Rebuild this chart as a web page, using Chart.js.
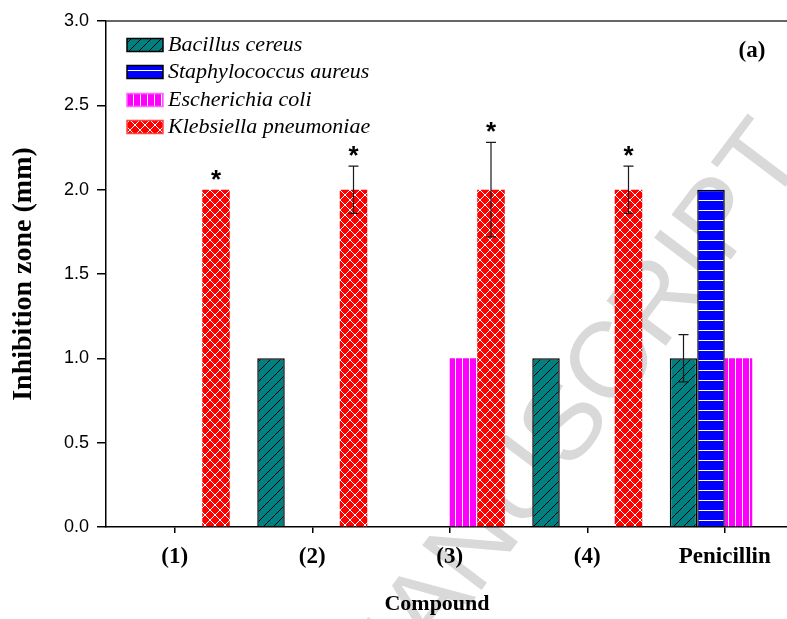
<!DOCTYPE html>
<html>
<head>
<meta charset="utf-8">
<script src="https://cdn.jsdelivr.net/npm/chart.js@4.4.1/dist/chart.umd.min.js"></script>
<style>
  html, body { margin: 0; padding: 0; background: #fff; overflow: hidden; }
</style>
</head>
<body>
<canvas id="chart" width="800" height="619"></canvas>
<script>
// categories and values
const compounds = ['(1)', '(2)', '(3)', '(4)', 'Penicillin'];
const bacillusCereus = [0, 1, 0, 1, 1];
const staphAureus = [0, 0, 0, 0, 2];
const escherichiaColi = [0, 0, 1, 0, 1];
const klebsiella = [2, 2, 2, 2, 0];

// error bars (+/-) and significance marks
const bacillusErr = [0, 0, 0, 0, 0.14];
const klebsiellaErr = [0, 0.14, 0.28, 0.14, 0];
const klebsiellaStar = [true, true, true, true, false];

const seriesNames = ['Bacillus cereus', 'Staphylococcus aureus', 'Escherichia coli', 'Klebsiella pneumoniae'];

const canvas = document.getElementById('chart');
const ctx = canvas.getContext('2d');

// hatch patterns like the original figure
function makePattern(w, h, bg, draw) {
    const c = document.createElement('canvas');
    c.width = w;
    c.height = h;
    const g = c.getContext('2d');
    g.fillStyle = bg;
    g.fillRect(0, 0, w, h);
    draw(g, w, h);
    return ctx.createPattern(c, 'repeat');
}

const diagPattern = makePattern(10, 10, '#008080', (g, w, h) => {
    g.strokeStyle = '#000';
    g.lineWidth = 1;
    g.beginPath();
    g.moveTo(0, h); g.lineTo(w, 0);
    g.moveTo(-2, 2); g.lineTo(2, -2);
    g.moveTo(w - 2, h + 2); g.lineTo(w + 2, h - 2);
    g.stroke();
});
const horizPattern = makePattern(4, 10, '#0000ff', (g, w) => {
    g.fillStyle = '#ffffff';
    g.fillRect(0, 0, w, 1);
});
const vertPattern = makePattern(7, 4, '#ff00ff', (g, w, h) => {
    g.fillStyle = '#ffffff';
    g.fillRect(0, 0, 1, h);
});
const crossPattern = makePattern(10, 10, '#ff0000', (g, w, h) => {
    g.strokeStyle = '#ffffff';
    g.lineWidth = 1;
    g.beginPath();
    g.moveTo(0, 0); g.lineTo(w, h);
    g.moveTo(0, h); g.lineTo(w, 0);
    g.stroke();
});

const borderW = c => (c.raw > 0 ? 1.5 : 0);
const serif = '"Liberation Serif", "Times New Roman", serif';

// light watermark behind everything
const watermark = {
    id: 'watermark',
    beforeDraw(chart) {
        const c = chart.ctx;
        c.save();
        c.fillStyle = '#fff';
        c.fillRect(0, 0, chart.width, chart.height);
        c.font = '108px "Liberation Sans", Arial, sans-serif';
        c.fillStyle = '#d9d9d9';
        c.textBaseline = 'middle';
        const pre = c.measureText('MA').width + c.measureText('N').width / 2;
        c.translate(476, 548);
        c.rotate(-53 * Math.PI / 180);
        c.fillText('MANUSCRIPT', -pre, 0);
        c.restore();
    }
};

// error bars and asterisks
const errorBars = {
    id: 'errorBars',
    afterDatasetsDraw(chart) {
        const c = chart.ctx;
        const y = chart.scales.y;
        const errs = [bacillusErr, null, null, klebsiellaErr];
        c.save();
        c.strokeStyle = '#1a1a1a';
        c.lineWidth = 1.2;
        errs.forEach((err, di) => {
            if (!err) return;
            const meta = chart.getDatasetMeta(di);
            const vals = chart.data.datasets[di].data;
            err.forEach((e, i) => {
                if (!e) return;
                const x = meta.data[i].x;
                const top = y.getPixelForValue(vals[i] + e);
                const bot = y.getPixelForValue(vals[i] - e);
                c.beginPath();
                c.moveTo(x, top); c.lineTo(x, bot);
                c.moveTo(x - 5, top); c.lineTo(x + 5, top);
                c.moveTo(x - 5, bot); c.lineTo(x + 5, bot);
                c.stroke();
            });
        });
        const meta = chart.getDatasetMeta(3);
        c.fillStyle = '#000';
        c.font = 'bold 26px "Liberation Sans", Arial, sans-serif';
        c.textAlign = 'center';
        c.textBaseline = 'alphabetic';
        klebsiellaStar.forEach((s, i) => {
            if (!s) return;
            const top = y.getPixelForValue(klebsiella[i] + klebsiellaErr[i]);
            c.fillText('*', meta.data[i].x, top - 2);
        });
        c.restore();
    }
};

// frame line on top, legend, axis title and panel label
const decorations = {
    id: 'decorations',
    afterDraw(chart) {
        const c = chart.ctx;
        const area = chart.chartArea;
        c.save();
        c.strokeStyle = '#333';
        c.lineWidth = 1.5;
        c.beginPath();
        c.moveTo(area.left, area.top);
        c.lineTo(chart.width, area.top);
        c.stroke();

        const rowsY = [45, 72, 100, 127];
        c.font = 'italic 22px ' + serif;
        c.textBaseline = 'middle';
        c.textAlign = 'left';
        chart.data.datasets.forEach((ds, i) => {
            const yy = rowsY[i];
            c.fillStyle = ds.backgroundColor;
            c.fillRect(127, yy - 6.5, 36, 13);
            c.strokeStyle = i < 2 ? '#000' : ds.borderColorLegend;
            c.lineWidth = 1.5;
            c.strokeRect(127, yy - 6.5, 36, 13);
            c.fillStyle = '#000';
            c.fillText(ds.label, 168, yy);
        });

        c.font = 'bold 23px ' + serif;
        c.textAlign = 'center';
        c.fillText('(a)', 752, 51);

        c.font = 'bold 22px ' + serif;
        c.fillText('Compound', 437, 604);
        c.restore();
    }
};

new Chart(canvas, {
    type: 'bar',
    data: {
        labels: compounds,
        datasets: [
            { label: seriesNames[0], data: bacillusCereus, backgroundColor: diagPattern, borderColor: '#000', borderWidth: borderW },
            { label: seriesNames[1], data: staphAureus, backgroundColor: horizPattern, borderColor: '#000', borderWidth: borderW },
            { label: seriesNames[2], data: escherichiaColi, backgroundColor: vertPattern, borderWidth: 0, borderColorLegend: '#ff66ff' },
            { label: seriesNames[3], data: klebsiella, backgroundColor: crossPattern, borderWidth: 0, borderColorLegend: '#ff4444' }
        ]
    },
    options: {
        responsive: false,
        animation: false,
        devicePixelRatio: 1,
        categoryPercentage: 0.8,
        barPercentage: 1.0,
        layout: { padding: { top: 21, right: 6.5, bottom: 0, left: 0 } },
        plugins: {
            legend: { display: false },
            tooltip: { enabled: false }
        },
        scales: {
            x: {
                offset: true,
                grid: { offset: false, drawOnChartArea: false, drawTicks: true, tickLength: 6, color: '#000', lineWidth: 1.5 },
                border: { color: '#000', width: 1.5 },
                ticks: {
                    color: '#000',
                    padding: 10,
                    font: { family: serif, size: 23, weight: 'bold' }
                },
                afterFit(scale) { scale.height = 92; }
            },
            y: {
                min: 0,
                max: 3,
                grid: { drawOnChartArea: false, drawTicks: true, tickLength: 9, color: '#000', lineWidth: 1.5 },
                border: { color: '#000', width: 1.5 },
                ticks: {
                    stepSize: 0.5,
                    color: '#000',
                    padding: 8,
                    font: { family: '"Liberation Sans", Arial, sans-serif', size: 18 },
                    callback: v => v.toFixed(1)
                },
                title: {
                    display: true,
                    text: 'Inhibition zone (mm)',
                    color: '#000',
                    padding: { top: 7, bottom: 0 },
                    font: { family: serif, size: 28, weight: 'bold' }
                },
                afterFit(scale) { scale.width = 106; }
            }
        }
    },
    plugins: [watermark, errorBars, decorations]
});
</script>
</body>
</html>
